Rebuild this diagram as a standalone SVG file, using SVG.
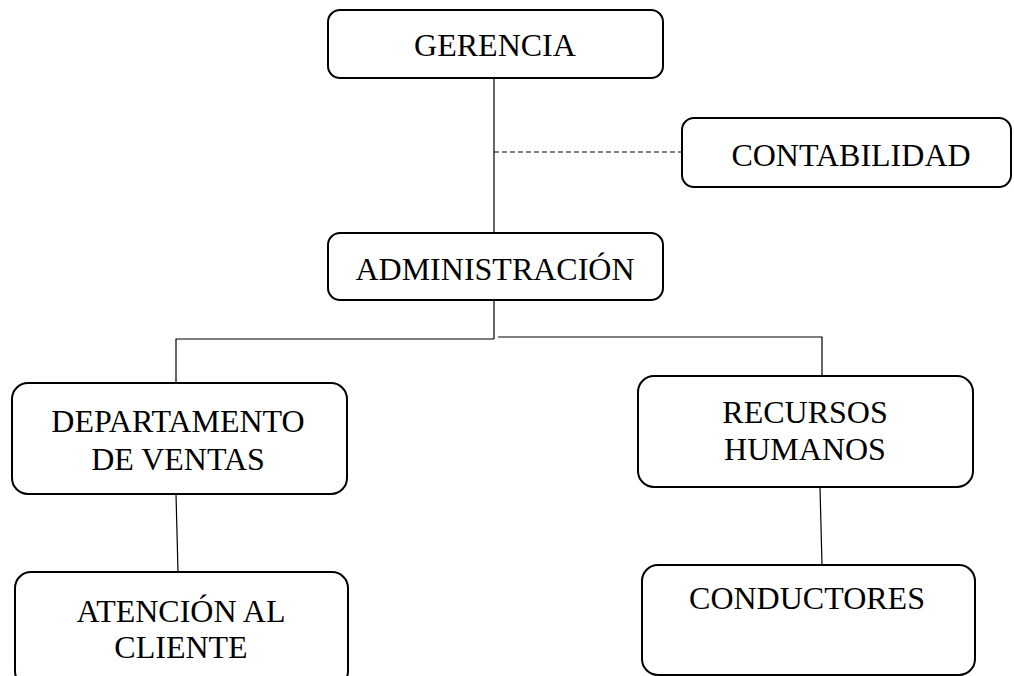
<svg xmlns="http://www.w3.org/2000/svg" width="1014" height="676" viewBox="0 0 1014 676">
<style>
.box{fill:#fff;stroke:#000;stroke-width:2}
.ln{fill:none;stroke:#000;stroke-width:1.2}
.dash{fill:none;stroke:#000;stroke-width:1.2;stroke-dasharray:5 3}
text{font-family:"Liberation Serif","Times New Roman",serif;font-size:32px;fill:#000;text-anchor:middle}
</style>
<rect width="1014" height="676" fill="#fff"/>
<g id="connectors">
<line class="ln" x1="494" y1="78" x2="494" y2="233"/>
<line class="dash" x1="494" y1="152" x2="682" y2="152"/>
<line class="ln" x1="494" y1="300" x2="494" y2="339"/>
<polyline class="ln" points="494,339 176,339 176,383"/>
<polyline class="ln" points="498,337 822,337 822,376"/>
<line class="ln" x1="176" y1="494" x2="178" y2="572"/>
<line class="ln" x1="820" y1="487" x2="822" y2="565"/>
</g>
<g id="gerencia"><rect class="box" x="328" y="10" width="335" height="68" rx="12"/><text x="495" y="56">GERENCIA</text></g>
<g id="contabilidad"><rect class="box" x="682" y="118" width="329" height="69" rx="12"/><text x="851" y="166">CONTABILIDAD</text></g>
<g id="administracion"><rect class="box" x="328" y="233" width="335" height="67" rx="12"/><text x="495" y="280">ADMINISTRACIÓN</text></g>
<g id="ventas"><rect class="box" x="12" y="383" width="335" height="111" rx="16"/><text x="178" y="432">DEPARTAMENTO</text><text x="178" y="470">DE VENTAS</text></g>
<g id="rrhh"><rect class="box" x="638" y="376" width="335" height="111" rx="16"/><text x="805" y="423">RECURSOS</text><text x="805" y="460">HUMANOS</text></g>
<g id="atencion"><rect class="box" x="15" y="572" width="333" height="115" rx="16"/><text x="181" y="622">ATENCIÓN AL</text><text x="181" y="658">CLIENTE</text></g>
<g id="conductores"><rect class="box" x="642" y="565" width="333" height="110" rx="16"/><text x="807" y="609">CONDUCTORES</text></g>
</svg>
